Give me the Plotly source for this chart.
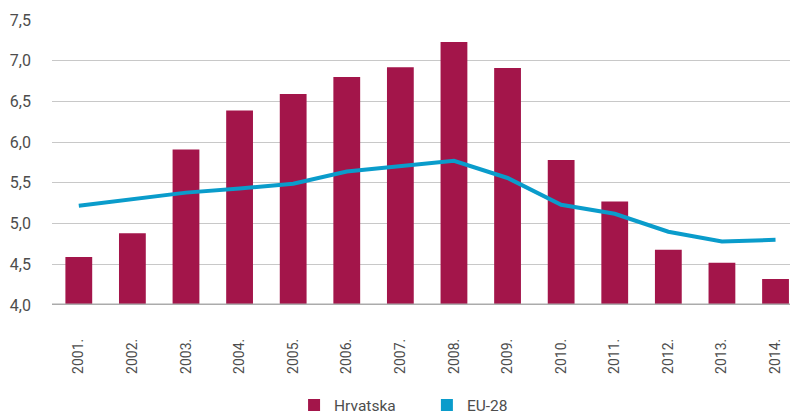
import plotly.graph_objects as go

years = ["2001.", "2002.", "2003.", "2004.", "2005.", "2006.", "2007.",
         "2008.", "2009.", "2010.", "2011.", "2012.", "2013.", "2014."]
hrvatska = [4.59, 4.88, 5.91, 6.39, 6.59, 6.80, 6.92, 7.23, 6.91, 5.78, 5.27, 4.68, 4.52, 4.32]
eu28 = [5.22, 5.30, 5.38, 5.43, 5.49, 5.64, 5.71, 5.77, 5.56, 5.23, 5.12, 4.90, 4.78, 4.80]
y_ticks = [4.0, 4.5, 5.0, 5.5, 6.0, 6.5, 7.0, 7.5]

BAR_COLOR = "#A3154A"
LINE_COLOR = "#0A9CCB"

fig = go.Figure()
fig.add_trace(go.Bar(x=years, y=hrvatska, name="Hrvatska", legend="legend",
                     marker=dict(color=BAR_COLOR, line=dict(width=0)), width=0.5))
fig.add_trace(go.Scatter(x=years, y=eu28, name="EU-28", mode="lines",
                         line=dict(color=LINE_COLOR, width=4), showlegend=False))
# legend-only square symbol for EU-28
fig.add_trace(go.Bar(x=[years[0]], y=[None], name="EU-28", legend="legend2",
                     marker=dict(color=LINE_COLOR, line=dict(width=0)), width=0.5))

legend_common = dict(orientation="h", xanchor="left", y=-0.352, yanchor="middle",
                     font=dict(size=15.5, color="#4D4D4D"), itemwidth=30,
                     bgcolor="rgba(0,0,0,0)", borderwidth=0, tracegroupgap=0)

fig.update_layout(
    width=790, height=417,
    margin=dict(l=52, r=0, t=20, b=112, autoexpand=False),
    plot_bgcolor="white", paper_bgcolor="white",
    separators=",.",
    barmode="overlay",
    font=dict(family="Roboto, sans-serif", color="#4D4D4D", size=15),
    showlegend=True,
    legend=dict(x=0.328, **legend_common),
    legend2=dict(x=0.508, **legend_common),
    xaxis=dict(type="category", range=[-0.5, 13.27], tickangle=-90,
               showgrid=False, showline=False, ticks="", automargin=False,
               ticklabelstandoff=30,
               tickfont=dict(size=14, color="#4D4D4D")),
    yaxis=dict(range=[4.0, 7.5], tickvals=y_ticks, tickformat=".1f",
               showgrid=True, gridcolor="#C8C8C8", gridwidth=1.2,
               zeroline=False, showline=False, ticks="", automargin=False,
               ticklabelstandoff=20,
               tickfont=dict(size=16, color="#4D4D4D")),
)
fig.add_shape(type="line", xref="paper", yref="y", x0=0, x1=1, y0=4.0, y1=4.0,
              line=dict(color="#ABABAB", width=3), layer="above")

fig.write_html("out.html", config={"displayModeBar": False},
               post_script="document.body.style.margin='0';document.body.style.overflow='hidden';")
